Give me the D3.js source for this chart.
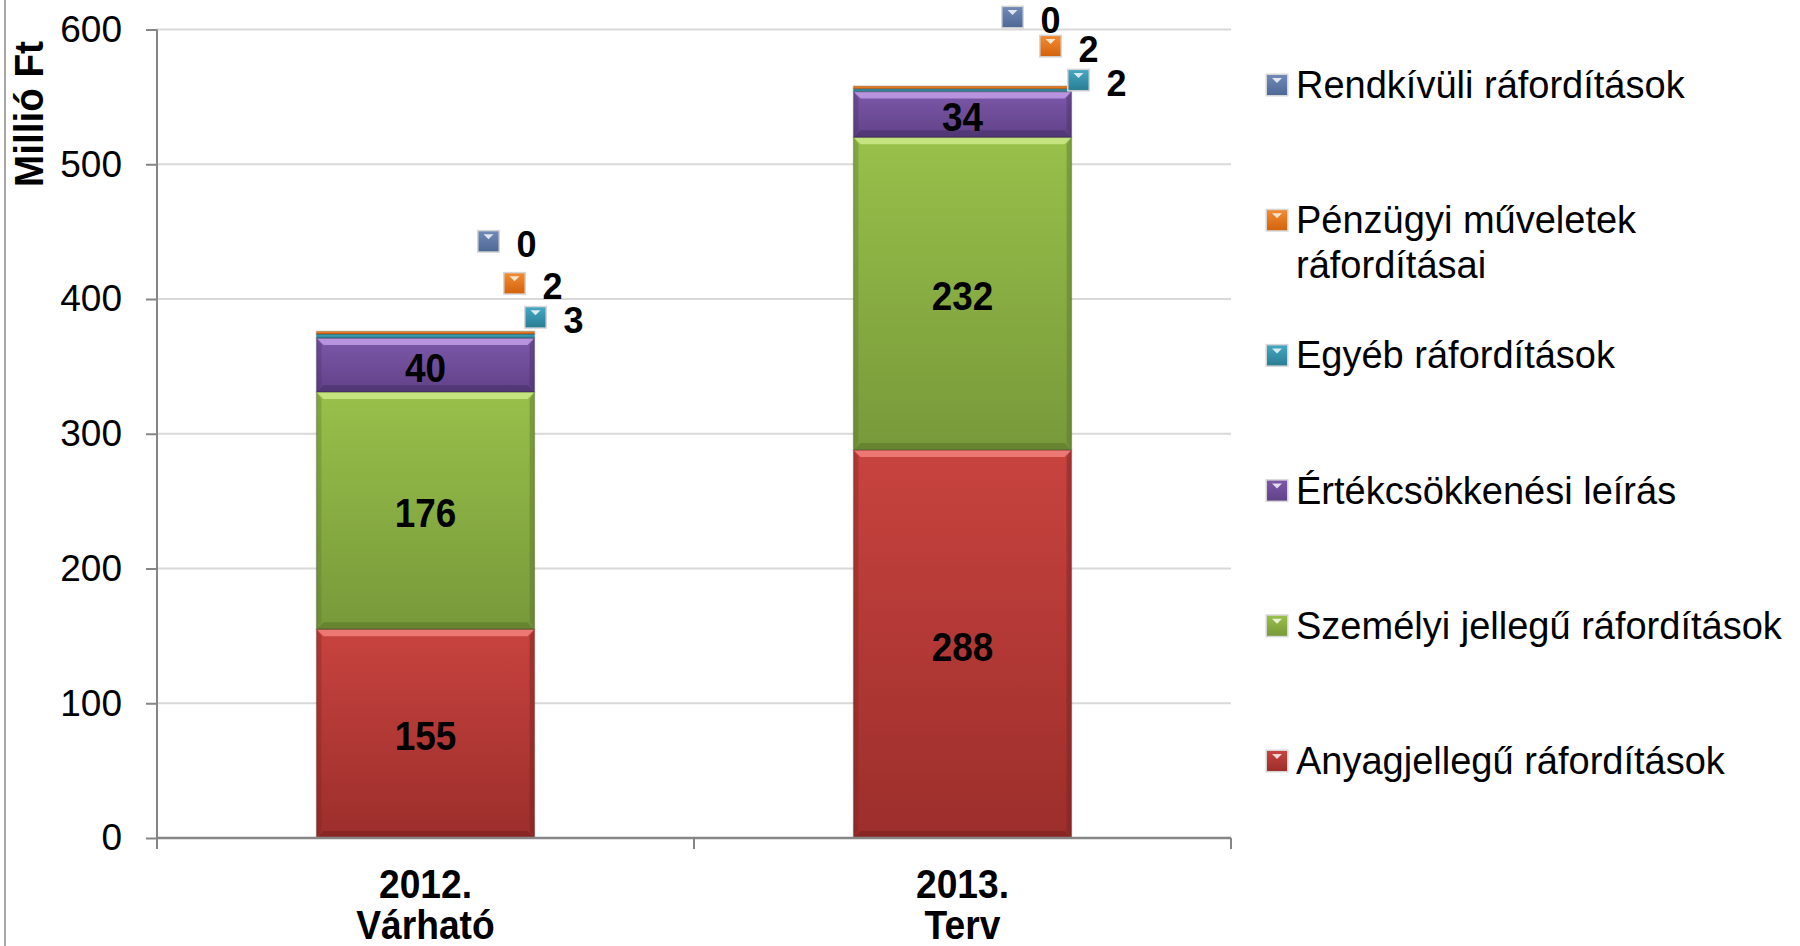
<!DOCTYPE html>
<html>
<head>
<meta charset="utf-8">
<script src="https://cdn.jsdelivr.net/npm/d3@7/dist/d3.min.js"></script>
<style>
  body { margin: 0; background: #fff; }
  text { font-family: "Liberation Sans", Arial, sans-serif; }
</style>
</head>
<body>
<svg id="chart" width="1800" height="946"></svg>
<script>
// Data (Millió Ft)
const categories = [["2012.", "Várható"], ["2013.", "Terv"]];
const seriesNames = [
  "Anyagjellegű ráfordítások",
  "Személyi jellegű ráfordítások",
  "Értékcsökkenési leírás",
  "Egyéb ráfordítások",
  "Pénzügyi műveletek ráfordításai",
  "Rendkívüli ráfordítások"
];
const anyag = [155, 288];
const szemelyi = [176, 232];
const ertekcsokkenes = [40, 34];
const egyeb = [3, 2];
const penzugyi = [2, 2];
const rendkivuli = [0, 0];
const yTicks = [0, 100, 200, 300, 400, 500, 600];

// legend shows wrapped label for Pénzügyi
const legendLines = [
  ["Anyagjellegű ráfordítások"],
  ["Személyi jellegű ráfordítások"],
  ["Értékcsökkenési leírás"],
  ["Egyéb ráfordítások"],
  ["Pénzügyi műveletek", "ráfordításai"],
  ["Rendkívüli ráfordítások"]
];

// colours per series: highlight, top, bottom, dark edge
const palette = [
  { hi: "#f3817c", top: "#c8433f", bot: "#9c2e2b", dark: "#7a2220" },
  { hi: "#cdea8a", top: "#98c04a", bot: "#78993a", dark: "#5b7629" },
  { hi: "#c29fe6", top: "#7d58aa", bot: "#614288", dark: "#48316a" },
  { hi: "#8fd8ea", top: "#44a7c2", bot: "#2b7e94", dark: "#1f6273" },
  { hi: "#ffc08a", top: "#f28b33", bot: "#d2640c", dark: "#a44d08" },
  { hi: "#a9bde0", top: "#7089b6", bot: "#4f6996", dark: "#3c527a" }
];

// where the small-value labels were dragged to: [dx from bar right, dy from stack top]
// order: Egyéb, Pénzügyi, Rendkívüli
const smallLabelOffsets = [
  [[1, -14], [-20, -48], [-46, -90]],
  [[7, -6], [-21, -40], [-59, -69]]
];

const svg = d3.select("#chart");
const plotLeft = 157, plotRight = 1231;

const y = d3.scaleLinear().domain([0, 600]).range([838, 29.5]);
const x = d3.scaleBand()
  .domain(d3.range(categories.length))
  .range([plotLeft, plotRight])
  .paddingInner(0.594)
  .paddingOuter(0.297);

const seriesValues = [anyag, szemelyi, ertekcsokkenes, egyeb, penzugyi, rendkivuli];
const rows = categories.map((c, i) => {
  const r = { idx: i };
  seriesValues.forEach((vals, s) => { r["s" + s] = vals[i]; });
  return r;
});
const stacked = d3.stack().keys(seriesValues.map((_, s) => "s" + s))(rows);

// gradients
const defs = svg.append("defs");
palette.forEach((p, i) => {
  const g = defs.append("linearGradient")
    .attr("id", "grad" + i)
    .attr("x1", 0).attr("y1", 0).attr("x2", 0).attr("y2", 1);
  g.append("stop").attr("offset", "0%").attr("stop-color", p.top);
  g.append("stop").attr("offset", "100%").attr("stop-color", p.bot);
});

// left frame line
svg.append("line")
  .attr("x1", 5).attr("x2", 5).attr("y1", 0).attr("y2", 946)
  .attr("stroke", "#a6a6a6").attr("stroke-width", 2);

// gridlines
svg.append("g").selectAll("line")
  .data(yTicks.filter(d => d > 0))
  .join("line")
    .attr("x1", plotLeft).attr("x2", plotRight)
    .attr("y1", d => y(d)).attr("y2", d => y(d))
    .attr("stroke", "#d9d9d9").attr("stroke-width", 2);

// bars
const bevel = 7;
const barsG = svg.append("g");
stacked.forEach((layer, s) => {
  const p = palette[s];
  layer.forEach((d, i) => {
    const x0 = x(i), x1 = x(i) + x.bandwidth();
    const y0 = y(d[1]), y1 = y(d[0]);
    const h = y1 - y0;
    if (h <= 0) return;
    const g = barsG.append("g");
    g.append("rect")
      .attr("x", x0).attr("y", y0)
      .attr("width", x1 - x0).attr("height", h)
      .attr("fill", `url(#grad${s})`);
    if (h > 2 * bevel + 2) {
      const b = bevel;
      const pts = a => a.map(q => q.join(",")).join(" ");
      g.append("polygon")
        .attr("points", pts([[x0, y0], [x1, y0], [x1 - b, y0 + b], [x0 + b, y0 + b]]))
        .attr("fill", p.hi).attr("opacity", 0.85);
      g.append("polygon")
        .attr("points", pts([[x0, y0], [x0 + b * 0.7, y0 + b], [x0 + b * 0.7, y1 - b], [x0, y1]]))
        .attr("fill", p.dark).attr("opacity", 0.35);
      g.append("polygon")
        .attr("points", pts([[x1, y0], [x1 - b * 0.7, y0 + b], [x1 - b * 0.7, y1 - b], [x1, y1]]))
        .attr("fill", p.dark).attr("opacity", 0.45);
      g.append("polygon")
        .attr("points", pts([[x0, y1], [x1, y1], [x1 - b, y1 - b], [x0 + b, y1 - b]]))
        .attr("fill", p.dark).attr("opacity", 0.6);
    }
    g.append("rect")
      .attr("x", x0).attr("y", y0)
      .attr("width", x1 - x0).attr("height", h)
      .attr("fill", "none")
      .attr("stroke", "#000").attr("stroke-opacity", 0.18).attr("stroke-width", 1.5);
  });
});

// labels inside the big segments
stacked.slice(0, 3).forEach(layer => {
  layer.forEach((d, i) => {
    const cx = x(i) + x.bandwidth() / 2;
    const cy = (y(d[0]) + y(d[1])) / 2 + 2;
    svg.append("text")
      .attr("transform", `translate(${cx},${cy}) scale(0.9,1)`)
      .attr("text-anchor", "middle")
      .attr("dy", "0.36em")
      .attr("font-size", 41)
      .attr("font-weight", "bold")
      .attr("fill", "#000")
      .text(d[1] - d[0]);
  });
});

// small swatch (used for legend and dragged labels)
function swatch(g, cx, cy, s) {
  const size = 20;
  g.append("rect")
    .attr("x", cx - size / 2 - 1.5).attr("y", cy - size / 2 - 1.5)
    .attr("width", size + 3).attr("height", size + 3)
    .attr("fill", "#d6d6d6");
  g.append("rect")
    .attr("x", cx - size / 2).attr("y", cy - size / 2)
    .attr("width", size).attr("height", size)
    .attr("fill", `url(#grad${s})`);
  g.append("polygon")
    .attr("points", [[cx - 5, cy - 7], [cx + 5, cy - 7], [cx, cy - 2]].map(q => q.join(",")).join(" "))
    .attr("fill", "#fff").attr("opacity", 0.8);
}

// small-value labels with their legend keys
const smallG = svg.append("g");
[3, 4, 5].forEach((s, k) => {
  categories.forEach((c, i) => {
    const top = y(stacked[stacked.length - 1][i][1]);
    const [dx, dy] = smallLabelOffsets[i][k];
    const mx = x(i) + x.bandwidth() + dx;
    const my = top + dy;
    swatch(smallG, mx, my, s);
    smallG.append("text")
      .attr("x", mx + 28).attr("y", my + 3)
      .attr("dy", "0.36em")
      .attr("font-size", 36)
      .attr("font-weight", "bold")
      .attr("fill", "#000")
      .text(seriesValues[s][i]);
  });
});

// y axis
const yAxisG = svg.append("g")
  .attr("transform", `translate(${plotLeft},0)`)
  .call(d3.axisLeft(y).tickValues(yTicks).tickSize(11).tickSizeOuter(0).tickPadding(24));
yAxisG.select(".domain").remove();
yAxisG.selectAll(".tick line").attr("stroke", "#868686").attr("stroke-width", 2);
yAxisG.selectAll(".tick text")
  .attr("font-size", 37)
  .attr("fill", "#000")
  .style("font-family", '"Liberation Sans", Arial, sans-serif');
svg.append("line")
  .attr("x1", plotLeft).attr("x2", plotLeft)
  .attr("y1", y(600)).attr("y2", y(0) + 11)
  .attr("stroke", "#868686").attr("stroke-width", 2);

// x axis
svg.append("line")
  .attr("x1", plotLeft).attr("x2", plotRight)
  .attr("y1", y(0)).attr("y2", y(0))
  .attr("stroke", "#868686").attr("stroke-width", 2.5);
const xBounds = d3.range(categories.length + 1).map(i => plotLeft + i * x.step());
svg.append("g").selectAll("line")
  .data(xBounds)
  .join("line")
    .attr("x1", d => d).attr("x2", d => d)
    .attr("y1", y(0)).attr("y2", y(0) + 11)
    .attr("stroke", "#868686").attr("stroke-width", 2);

const xLab = svg.append("g").selectAll("text")
  .data(categories)
  .join("text")
    .attr("transform", (d, i) => `translate(${x(i) + x.bandwidth() / 2},0) scale(0.93,1)`)
    .attr("text-anchor", "middle")
    .attr("font-size", 40)
    .attr("font-weight", "bold")
    .attr("fill", "#000");
xLab.selectAll("tspan")
  .data(d => d)
  .join("tspan")
    .attr("x", 0)
    .attr("y", (d, j) => 898 + j * 41)
    .text(d => d);

// y axis title
svg.append("text")
  .attr("transform", "translate(43,114) rotate(-90)")
  .attr("text-anchor", "middle")
  .attr("font-size", 40)
  .attr("font-weight", "bold")
  .attr("textLength", 146)
  .attr("lengthAdjust", "spacingAndGlyphs")
  .text("Millió Ft");

// legend (reverse stacking order)
const legendG = svg.append("g");
const legendStep = 135.2;
d3.range(seriesNames.length).reverse().forEach((s, k) => {
  const cy = 85 + k * legendStep;
  swatch(legendG, 1277, cy, s);
  const t = legendG.append("text")
    .attr("font-size", 38)
    .attr("fill", "#000");
  legendLines[s].forEach((line, j) => {
    t.append("tspan")
      .attr("x", 1296)
      .attr("y", cy + 13 + j * 45)
      .text(line);
  });
});
</script>
</body>
</html>
